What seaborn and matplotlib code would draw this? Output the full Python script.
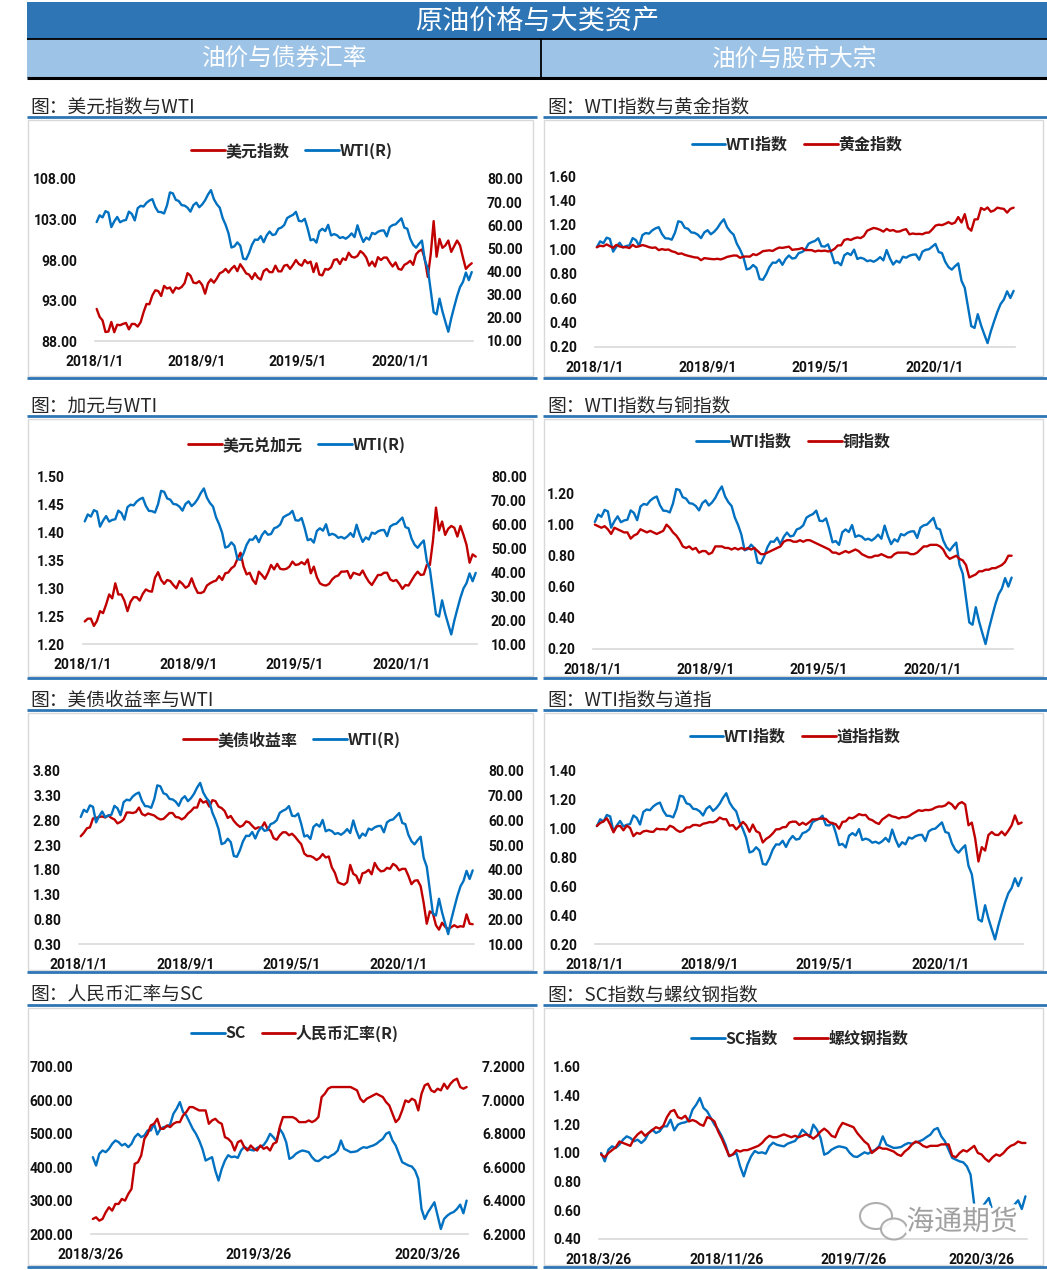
import numpy as np
import pandas as pd
import seaborn as sns
import matplotlib.pyplot as plt
from matplotlib.lines import Line2D
from matplotlib.patches import Rectangle, Ellipse
import matplotlib.patheffects as pe

sns.set_style('white')
plt.rcParams['font.family'] = ['Roboto', 'Noto Sans CJK SC', 'DejaVu Sans']
CJK = ['Noto Sans CJK SC', 'DejaVu Sans']

W, H = 1047, 1270
RED = '#C00000'
BLUE = '#0070C0'
HEAD_BLUE = '#2E75B6'
SUB_BLUE = '#9DC3E6'

# ---------------- data (weekly) ----------------
# WTI, USD/bbl, weekly Fridays 2018-01-05 .. 2020-06-19
wti_2018 = [61.4, 64.3, 63.4, 66.1, 65.5, 59.2, 61.7, 63.6, 61.3, 62.0, 62.3, 65.9, 64.9,
            62.1, 67.4, 68.4, 68.1, 69.7, 70.7, 71.3, 67.9, 65.8, 65.7, 65.1, 68.6, 74.2,
            73.8, 71.0, 70.5, 68.7, 68.5, 67.6, 65.9, 68.7, 69.8, 67.8, 69.0, 70.8, 73.3,
            75.2, 71.3, 69.1, 67.6, 63.1, 60.2, 56.5, 50.4, 50.9, 52.6, 51.2, 45.6, 45.3]
wti_2019 = [48.0, 51.6, 53.8, 53.7, 55.3, 52.7, 55.6, 57.3, 55.8, 56.1, 58.5, 59.0, 60.1,
            63.1, 63.9, 64.5, 65.8, 61.9, 61.7, 62.8, 58.6, 53.5, 54.0, 52.5, 57.4, 58.5,
            57.5, 60.2, 55.6, 56.2, 55.7, 54.5, 54.9, 54.2, 55.1, 56.5, 54.9, 60.0, 55.9,
            52.8, 54.7, 53.8, 56.7, 56.2, 57.2, 57.7, 57.8, 55.2, 59.2, 60.1, 60.4, 61.7]
wti_2020 = [63.0, 59.0, 58.5, 54.2, 51.6, 50.3, 52.0, 53.4, 44.8, 41.3, 31.7, 22.4, 21.5,
            28.3, 22.8, 18.3, 14.0, 19.8, 24.7, 29.4, 33.3, 35.5, 39.6, 36.3, 39.8]
WTI_BASE = 60.37

# US dollar index
dxy_2018 = [91.96, 90.98, 90.55, 89.11, 89.17, 90.35, 89.08, 90.01, 89.95, 90.11, 90.23, 89.44, 90.11,
            90.10, 89.78, 90.32, 91.55, 92.57, 92.54, 93.63, 94.26, 94.17, 93.56, 94.80, 94.48, 94.60,
            93.96, 94.60, 94.45, 94.67, 95.14, 96.37, 96.07, 95.21, 95.13, 95.39, 94.92, 93.84, 95.13,
            95.61, 95.20, 95.72, 96.36, 96.54, 96.90, 96.45, 96.93, 97.27, 96.62, 97.48, 96.95, 96.35]
dxy_2019 = [96.20, 95.65, 96.37, 95.82, 95.58, 96.63, 96.90, 96.50, 96.50, 97.30, 96.60, 96.60, 97.30,
            97.40, 96.90, 97.40, 98.00, 97.50, 97.30, 98.00, 97.60, 97.80, 96.50, 97.60, 96.20, 96.10,
            96.90, 96.80, 97.10, 98.00, 98.10, 97.50, 98.20, 98.00, 98.90, 98.40, 98.30, 98.50, 99.10,
            98.80, 98.30, 97.30, 97.80, 97.20, 98.35, 98.00, 98.30, 98.30, 97.70, 97.20, 97.70, 96.90]
dxy_2020 = [96.80, 97.40, 97.60, 97.90, 97.40, 98.70, 99.10, 99.30, 98.10, 95.90, 98.70, 102.80, 98.40,
            100.60, 99.50, 99.80, 100.40, 99.00, 99.70, 100.40, 99.80, 98.30, 96.90, 97.30, 97.60]

# USD/CAD
cad_2018 = [1.2405, 1.2455, 1.2455, 1.2325, 1.2415, 1.2590, 1.2555, 1.2710, 1.2890, 1.2820, 1.3090, 1.2890, 1.2890,
            1.2775, 1.2590, 1.2760, 1.2840, 1.2840, 1.2780, 1.2900, 1.2980, 1.2950, 1.2940, 1.3190, 1.3290, 1.3150,
            1.3080, 1.3150, 1.3130, 1.3060, 1.3000, 1.3130, 1.3080, 1.3010, 1.3045, 1.3180, 1.3030, 1.2920, 1.2915,
            1.2940, 1.3050, 1.3090, 1.3120, 1.3140, 1.3220, 1.3150, 1.3270, 1.3285, 1.3360, 1.3400, 1.3530, 1.3640]
cad_2019 = [1.3390, 1.3250, 1.3280, 1.3150, 1.3080, 1.3300, 1.3240, 1.3170, 1.3280, 1.3420, 1.3340, 1.3440, 1.3350,
            1.3340, 1.3350, 1.3390, 1.3480, 1.3420, 1.3430, 1.3470, 1.3430, 1.3520, 1.3270, 1.3390, 1.3200, 1.3090,
            1.3060, 1.3050, 1.3080, 1.3160, 1.3210, 1.3230, 1.3300, 1.3300, 1.3310, 1.3180, 1.3280, 1.3260, 1.3240,
            1.3320, 1.3210, 1.3120, 1.3060, 1.3150, 1.3240, 1.3240, 1.3280, 1.3280, 1.3160, 1.3130, 1.3150, 1.3080]
cad_2020 = [1.2990, 1.3060, 1.3050, 1.3140, 1.3230, 1.3300, 1.3240, 1.3250, 1.3420, 1.3420, 1.3850, 1.4450, 1.4040,
            1.4200, 1.3960, 1.4070, 1.4120, 1.4090, 1.3930, 1.4120, 1.3960, 1.3780, 1.3460, 1.3610, 1.3570]

# US 10y treasury yield, %
ust_2018 = [2.48, 2.55, 2.64, 2.66, 2.84, 2.85, 2.87, 2.88, 2.86, 2.90, 2.85, 2.82, 2.74,
            2.77, 2.82, 2.96, 2.96, 2.95, 2.97, 3.06, 2.93, 2.90, 2.94, 2.92, 2.90, 2.85,
            2.82, 2.83, 2.89, 2.95, 2.95, 2.87, 2.86, 2.82, 2.86, 2.94, 2.99, 3.06, 3.06,
            3.23, 3.16, 3.19, 3.08, 3.21, 3.19, 3.08, 3.05, 2.99, 2.85, 2.89, 2.79, 2.72]
ust_2019 = [2.67, 2.70, 2.78, 2.76, 2.69, 2.63, 2.66, 2.65, 2.76, 2.63, 2.59, 2.44, 2.41,
            2.50, 2.56, 2.56, 2.50, 2.53, 2.47, 2.39, 2.32, 2.13, 2.08, 2.08, 2.05, 2.00,
            2.04, 2.12, 2.05, 2.07, 1.85, 1.74, 1.55, 1.52, 1.50, 1.55, 1.90, 1.72, 1.68,
            1.53, 1.73, 1.75, 1.80, 1.71, 1.94, 1.83, 1.77, 1.78, 1.84, 1.82, 1.92, 1.88]
ust_2020 = [1.79, 1.82, 1.82, 1.68, 1.51, 1.58, 1.59, 1.47, 1.13, 0.71, 0.96, 0.92, 0.68,
            0.59, 0.73, 0.65, 0.60, 0.64, 0.68, 0.64, 0.66, 0.65, 0.90, 0.71, 0.70]

# gold, USD/oz
gold_2018 = [1322, 1338, 1332, 1352, 1333, 1316, 1347, 1330, 1322, 1323, 1313, 1347, 1325,
             1332, 1345, 1336, 1323, 1315, 1320, 1291, 1302, 1294, 1298, 1279, 1270, 1251,
             1256, 1241, 1231, 1223, 1214, 1211, 1184, 1206, 1201, 1197, 1194, 1199, 1192,
             1203, 1219, 1227, 1234, 1233, 1209, 1222, 1223, 1222, 1248, 1238, 1257, 1280]
gold_2019 = [1285, 1289, 1282, 1303, 1318, 1315, 1322, 1328, 1294, 1299, 1302, 1313, 1292,
             1291, 1291, 1276, 1286, 1281, 1286, 1277, 1284, 1305, 1341, 1342, 1399, 1409,
             1399, 1416, 1426, 1419, 1441, 1497, 1513, 1527, 1520, 1507, 1488, 1517, 1497,
             1505, 1488, 1490, 1505, 1514, 1459, 1468, 1462, 1464, 1460, 1476, 1478, 1511]
gold_2020 = [1552, 1562, 1557, 1571, 1589, 1570, 1584, 1643, 1585, 1674, 1530, 1498, 1617,
             1620, 1740, 1720, 1745, 1700, 1713, 1743, 1735, 1730, 1690, 1730, 1743]
GOLD_BASE = 1300

# copper index (read directly)
cu_2018 = [1.00, 0.99, 0.98, 0.99, 0.97, 0.94, 0.98, 0.97, 0.96, 0.95, 0.95, 0.91, 0.93,
           0.94, 0.97, 0.96, 0.95, 0.96, 0.95, 0.94, 0.95, 0.96, 1.00, 0.98, 0.95, 0.93,
           0.90, 0.86, 0.85, 0.86, 0.84, 0.85, 0.82, 0.83, 0.83, 0.81, 0.82, 0.86, 0.86,
           0.86, 0.85, 0.85, 0.84, 0.85, 0.84, 0.85, 0.84, 0.85, 0.84, 0.85, 0.83, 0.81]
cu_2019 = [0.81, 0.82, 0.83, 0.84, 0.85, 0.86, 0.89, 0.90, 0.90, 0.89, 0.89, 0.90, 0.89,
           0.90, 0.90, 0.89, 0.88, 0.87, 0.86, 0.85, 0.84, 0.82, 0.82, 0.81, 0.82, 0.83,
           0.82, 0.83, 0.84, 0.83, 0.81, 0.80, 0.79, 0.79, 0.80, 0.80, 0.81, 0.80, 0.79,
           0.79, 0.81, 0.82, 0.82, 0.82, 0.82, 0.81, 0.81, 0.82, 0.84, 0.86, 0.86, 0.87]
cu_2020 = [0.87, 0.87, 0.86, 0.84, 0.80, 0.78, 0.79, 0.80, 0.78, 0.77, 0.74, 0.66, 0.67,
           0.68, 0.70, 0.70, 0.71, 0.71, 0.72, 0.72, 0.73, 0.74, 0.76, 0.80, 0.80]

# Dow Jones industrial average
dow_2018 = [25296, 25803, 26072, 26617, 25521, 24191, 25219, 25310, 24538, 25336, 24946, 23533, 24103,
            23933, 24360, 24463, 24311, 24263, 24831, 24715, 24753, 24635, 25317, 25090, 24581, 24271,
            24456, 25019, 25058, 25451, 25463, 25313, 25669, 25790, 25965, 25917, 26155, 26744, 26458,
            26447, 25340, 25444, 24688, 25271, 25989, 25413, 24286, 25538, 24389, 24101, 22445, 23062]
dow_2019 = [23433, 23996, 24706, 24737, 25064, 25106, 25883, 26031, 26026, 25450, 25849, 25502, 25929,
            26425, 26412, 26559, 26543, 26505, 25942, 25764, 25586, 24815, 25984, 26090, 26719, 26600,
            26922, 27332, 27154, 27192, 26485, 26287, 25886, 25629, 26403, 26797, 27220, 26935, 26820,
            26573, 26817, 26770, 26958, 27347, 27681, 28005, 27876, 28051, 28015, 28135, 28455, 28645]
dow_2020 = [28635, 28824, 29348, 28990, 28256, 29103, 29398, 28992, 25409, 25865, 23186, 19174, 21637,
            21053, 23719, 24242, 23775, 23724, 24331, 23685, 24465, 25383, 27111, 25606, 25871]
DOW_BASE = 24824

# SC crude, CNY/bbl, weekly Fridays 2018-03-30 .. 2020-06-19
sc_2018 = [430, 405, 440, 450, 445, 455, 470, 480, 475, 465, 470, 460, 470, 490,
           500, 490, 495, 510, 510, 530, 498, 515, 520, 522, 528, 560, 575,
           595, 565, 555, 535, 515, 500, 480, 455, 420, 425, 430, 390, 360]
sc_2019 = [395, 420, 436, 430, 432, 428, 450, 461, 455, 452, 450, 458, 462,
           466, 480, 500, 490, 478, 515, 500, 475, 425, 430, 440, 446, 450,
           448, 445, 430, 420, 418, 425, 432, 428, 435, 440, 450, 480, 455,
           450, 445, 446, 448, 455, 460, 458, 462, 465, 470, 478, 485, 500]
sc_2020 = [505, 480, 465, 440, 415, 410, 405, 402, 390, 365, 275, 245, 265,
           280, 295, 255, 215, 245, 255, 262, 266, 275, 288, 262, 300]

# CNY central parity
cny_2018 = [6.29, 6.30, 6.28, 6.29, 6.33, 6.36, 6.34, 6.38, 6.38, 6.41, 6.40, 6.44, 6.47, 6.62,
            6.63, 6.67, 6.77, 6.80, 6.85, 6.86, 6.89, 6.83, 6.83, 6.85, 6.84, 6.86, 6.87,
            6.87, 6.91, 6.93, 6.96, 6.96, 6.95, 6.94, 6.94, 6.94, 6.86, 6.88, 6.89, 6.87]
cny_2019 = [6.86, 6.78, 6.77, 6.75, 6.70, 6.75, 6.76, 6.72, 6.70, 6.73, 6.71, 6.70, 6.73,
            6.71, 6.72, 6.70, 6.74, 6.75, 6.84, 6.90, 6.90, 6.90, 6.90, 6.89, 6.87, 6.87,
            6.87, 6.88, 6.87, 6.88, 6.90, 7.02, 7.04, 7.07, 7.08, 7.08, 7.08, 7.08, 7.08,
            7.08, 7.08, 7.07, 7.06, 7.01, 6.99, 7.01, 7.02, 7.03, 7.04, 7.03, 7.02, 6.99]
cny_2020 = [6.97, 6.92, 6.87, 6.89, 6.94, 7.00, 6.99, 7.01, 7.00, 6.94, 7.04, 7.09, 7.10,
            7.06, 7.05, 7.07, 7.06, 7.10, 7.07, 7.10, 7.12, 7.13, 7.08, 7.07, 7.08]

# rebar index (read directly)
rb_2018 = [0.99, 0.97, 1.00, 1.02, 1.04, 1.08, 1.07, 1.06, 1.05, 1.10, 1.13, 1.15, 1.12, 1.14,
           1.16, 1.18, 1.17, 1.19, 1.25, 1.29, 1.30, 1.25, 1.24, 1.26, 1.22, 1.23, 1.22,
           1.20, 1.19, 1.25, 1.24, 1.22, 1.15, 1.10, 1.04, 0.98, 0.99, 1.02, 1.01, 1.02]
rb_2019 = [1.02, 1.03, 1.04, 1.05, 1.07, 1.10, 1.12, 1.11, 1.11, 1.12, 1.13, 1.12, 1.11,
           1.12, 1.11, 1.12, 1.13, 1.12, 1.10, 1.12, 1.15, 1.17, 1.15, 1.12, 1.11, 1.17,
           1.21, 1.20, 1.19, 1.18, 1.14, 1.11, 1.08, 1.06, 1.00, 1.02, 1.04, 1.03, 1.03,
           1.02, 1.01, 0.99, 0.98, 1.01, 1.03, 1.06, 1.08, 1.07, 1.05, 1.04, 1.05, 1.05]
rb_2020 = [1.05, 1.06, 1.06, 1.06, 0.98, 0.97, 1.00, 1.02, 1.01, 1.03, 1.05, 1.00, 0.99,
           0.96, 0.94, 0.97, 0.99, 0.98, 1.00, 1.03, 1.05, 1.06, 1.08, 1.07, 1.07]

# axis ticks
ticks_a = ['2018-01-01', '2018-09-01', '2019-05-01', '2020-01-01']
labels_a = ['2018/1/1', '2018/9/1', '2019/5/1', '2020/1/1']
ticks_b = ['2018-03-26', '2019-03-26', '2020-03-26']
labels_b = ['2018/3/26', '2019/3/26', '2020/3/26']
ticks_c = ['2018-03-26', '2018-11-26', '2019-07-26', '2020-03-26']
labels_c = ['2018/3/26', '2018/11/26', '2019/7/26', '2020/3/26']

# ---------------- series ----------------
weeks = pd.date_range('2018-01-05', '2020-06-19', freq='W-FRI')
weeks_sc = pd.date_range('2018-03-30', '2020-06-19', freq='W-FRI')

wti = np.array(wti_2018 + wti_2019 + wti_2020)
wti_idx = wti / WTI_BASE
dxy = np.array(dxy_2018 + dxy_2019 + dxy_2020)
cad = np.array(cad_2018 + cad_2019 + cad_2020)
ust = np.array(ust_2018 + ust_2019 + ust_2020)
gold_idx = np.array(gold_2018 + gold_2019 + gold_2020) / GOLD_BASE
cu_idx = np.array(cu_2018 + cu_2019 + cu_2020)
dow_idx = np.array(dow_2018 + dow_2019 + dow_2020) / DOW_BASE
sc = np.array(sc_2018 + sc_2019 + sc_2020, dtype=float)
sc_idx = sc / sc[0]
cny = np.array(cny_2018 + cny_2019 + cny_2020)
rb_idx = np.array(rb_2018 + rb_2019 + rb_2020)

# ---------------- figure ----------------
fig = plt.figure(figsize=(W / 100, H / 100), dpi=100)
fig.patch.set_facecolor('white')


def fx(px):
    return px / W


def fy(py):
    return 1 - py / H


def hline(x0, x1, y, color, lw):
    fig.add_artist(Line2D([fx(x0), fx(x1)], [fy(y), fy(y)], transform=fig.transFigure,
                          color=color, lw=lw, solid_capstyle='butt', zorder=-1))


def rect(x0, x1, y0, y1, **kw):
    fig.add_artist(Rectangle((fx(x0), fy(y1)), (x1 - x0) / W, (y1 - y0) / H,
                             transform=fig.transFigure, zorder=-2, **kw))


# header bars
rect(27, 1047, 2, 39, facecolor=HEAD_BLUE, edgecolor='none')
rect(27, 1047, 39, 78, facecolor=SUB_BLUE, edgecolor='none')
hline(27, 1047, 39, 'black', 1.3)
hline(27, 1047, 78, 'black', 2.2)
fig.add_artist(Line2D([fx(541), fx(541)], [fy(39), fy(78)], transform=fig.transFigure,
                      color='black', lw=1.3))
fig.text(fx(537), fy(21), '原油价格与大类资产', ha='center', va='center', color='white',
         fontsize=19.5, family=CJK)
fig.text(fx(285), fy(59), '油价与债券汇率', ha='center', va='center', color='white',
         fontsize=17, family=CJK)
fig.text(fx(795), fy(59), '油价与股市大宗', ha='center', va='center', color='white',
         fontsize=17, family=CJK)

# panel frames: (title y, underline y, box bottom)
rows = [(107, 117, 378), (406, 416, 678), (700, 710, 972), (995, 1005, 1267)]
titles = [('图：美元指数与WTI', '图：WTI指数与黄金指数'),
          ('图：加元与WTI', '图：WTI指数与铜指数'),
          ('图：美债收益率与WTI', '图：WTI指数与道指'),
          ('图：人民币汇率与SC', '图：SC指数与螺纹钢指数')]
for (ty, ly, bb), (tl, tr) in zip(rows, titles):
    for (x0, x1, tx, txt) in [(27, 537, 30, tl), (543, 1047, 547, tr)]:
        rect(x0 + 1, x1 - 4, ly + 3, bb - 2, fill=False, edgecolor='#D9D9D9', lw=1)
        hline(x0, x1, ly, HEAD_BLUE, 2)
        hline(x0, x1, bb, HEAD_BLUE, 2)
        fig.text(fx(tx), fy(ty), txt, ha='left', va='center', fontsize=13.5,
                 family=CJK, fontweight='medium')


def make_axes(x0, x1, y0, y1):
    ax = fig.add_axes([fx(x0), fy(y1), (x1 - x0) / W, (y1 - y0) / H])
    ax.patch.set_alpha(0)
    return ax


def style(ax, ylim, yticks, fmt, xlim, xt, xl, side='left'):
    ax.set_xlim(pd.Timestamp(xlim[0]), pd.Timestamp(xlim[1]))
    ax.set_ylim(*ylim)
    ax.set_yticks(yticks)
    ax.set_yticklabels([fmt % v for v in yticks])
    ax.set_xlabel('')
    ax.set_ylabel('')
    for s in ['top', 'right', 'left', 'bottom']:
        ax.spines[s].set_visible(False)
    if side == 'left':
        ax.spines['bottom'].set_visible(True)
        ax.spines['bottom'].set_color('#D9D9D9')
        ax.spines['bottom'].set_linewidth(1.2)
        ax.set_xticks(pd.to_datetime(xt))
        ax.set_xticklabels(xl)
        ax.tick_params(axis='x', length=0, pad=10, labelsize=10)
        ax.tick_params(axis='y', length=0, pad=13, labelsize=10)
    else:
        ax.tick_params(axis='y', length=0, pad=10, labelsize=10)
    for lab in ax.get_xticklabels() + ax.get_yticklabels():
        lab.set_fontweight('bold')
        lab.set_color('#111111')


def legend(items, cx, cy):
    handles = [Line2D([], [], color=c, lw=2) for _, c in items]
    fig.legend(handles, [t for t, _ in items], loc='center', ncol=len(items),
               bbox_to_anchor=(fx(cx), fy(cy)), bbox_transform=fig.transFigure,
               frameon=False, handlelength=2.1, handletextpad=0.05, columnspacing=1.0,
               prop={'family': CJK, 'weight': 'bold', 'size': 11.5})


LW = 1.7
XL_A = ('2018-01-01', '2020-06-22')
XL_B = ('2018-03-26', '2020-06-22')


def dual(pos, x, y1, c1, y2, c2, lim1, t1, f1, lim2, t2, f2, xlim, xt, xl):
    ax = make_axes(*pos)
    sns.lineplot(x=x, y=y1, ax=ax, color=c1, linewidth=LW, legend=False)
    style(ax, lim1, t1, f1, xlim, xt, xl)
    ax2 = ax.twinx()
    sns.lineplot(x=x, y=y2, ax=ax2, color=c2, linewidth=LW, legend=False)
    style(ax2, lim2, t2, f2, xlim, xt, xl, side='right')


def single(pos, x, y1, c1, y2, c2, lim, t, f, xlim, xt, xl):
    ax = make_axes(*pos)
    sns.lineplot(x=x, y=y1, ax=ax, color=c1, linewidth=LW, legend=False)
    sns.lineplot(x=x, y=y2, ax=ax, color=c2, linewidth=LW, legend=False)
    style(ax, lim, t, f, xlim, xt, xl)


wti_ticks = [10, 20, 30, 40, 50, 60, 70, 80]

# row 1
dual((95, 473, 179, 341), weeks, dxy, RED, wti, BLUE,
     (88, 108), [88, 93, 98, 103, 108], '%.2f', (10, 80), wti_ticks, '%.2f', XL_A, ticks_a, labels_a)
legend([('美元指数', RED), ('WTI(R)', BLUE)], 292, 151)
single((595, 1015, 176, 347), weeks, wti_idx, BLUE, gold_idx, RED,
       (0.2, 1.6), [0.2, 0.4, 0.6, 0.8, 1.0, 1.2, 1.4, 1.6], '%.2f', XL_A, ticks_a, labels_a)
legend([('WTI指数', BLUE), ('黄金指数', RED)], 797, 145)

# row 2
dual((83, 477, 477, 644), weeks, cad, RED, wti, BLUE,
     (1.2, 1.5), [1.20, 1.25, 1.30, 1.35, 1.40, 1.45, 1.50], '%.2f', (10, 80), wti_ticks, '%.2f',
     XL_A, ticks_a, labels_a)
legend([('美元兑加元', RED), ('WTI(R)', BLUE)], 297, 445)
single((593, 1013, 478, 649), weeks, wti_idx, BLUE, cu_idx, RED,
       (0.2, 1.3), [0.2, 0.4, 0.6, 0.8, 1.0, 1.2], '%.2f', XL_A, ticks_a, labels_a)
legend([('WTI指数', BLUE), ('铜指数', RED)], 793, 442)

# row 3
dual((79, 474, 771, 944), weeks, ust, RED, wti, BLUE,
     (0.3, 3.8), [0.3, 0.8, 1.3, 1.8, 2.3, 2.8, 3.3, 3.8], '%.2f', (10, 80), wti_ticks, '%.2f',
     XL_A, ticks_a, labels_a)
legend([('美债收益率', RED), ('WTI(R)', BLUE)], 292, 740)
single((595, 1023, 771, 944), weeks, wti_idx, BLUE, dow_idx, RED,
       (0.2, 1.4), [0.2, 0.4, 0.6, 0.8, 1.0, 1.2, 1.4], '%.2f', XL_A, ticks_a, labels_a)
legend([('WTI指数', BLUE), ('道指指数', RED)], 795, 737)

# row 4
dual((91, 468, 1067, 1234), weeks_sc, sc, BLUE, cny, RED,
     (200, 700), [200, 300, 400, 500, 600, 700], '%.2f', (6.2, 7.2),
     [6.2, 6.4, 6.6, 6.8, 7.0, 7.2], '%.4f', XL_B, ticks_b, labels_b)
legend([('SC', BLUE), ('人民币汇率(R)', RED)], 295, 1033)
single((599, 1027, 1067, 1239), weeks_sc, sc_idx, BLUE, rb_idx, RED,
       (0.4, 1.6), [0.4, 0.6, 0.8, 1.0, 1.2, 1.4, 1.6], '%.2f', XL_B, ticks_c, labels_c)
legend([('SC指数', BLUE), ('螺纹钢指数', RED)], 800, 1039)

# watermark
for (ex, ey, ew, eh) in [(876, 1216, 32, 26), (894, 1229, 26, 21)]:
    fig.add_artist(Ellipse((fx(ex), fy(ey)), ew / W, eh / H, transform=fig.transFigure,
                           facecolor='white', edgecolor='#a6a6a6', lw=1.5, alpha=0.9, zorder=5))
fig.text(fx(962), fy(1222), '海通期货', ha='center', va='center', fontsize=20,
         color='#a0a0a0', family=CJK, zorder=5,
         path_effects=[pe.withStroke(linewidth=5, foreground='white')])

fig.savefig('out.png', dpi=100, facecolor='white')
